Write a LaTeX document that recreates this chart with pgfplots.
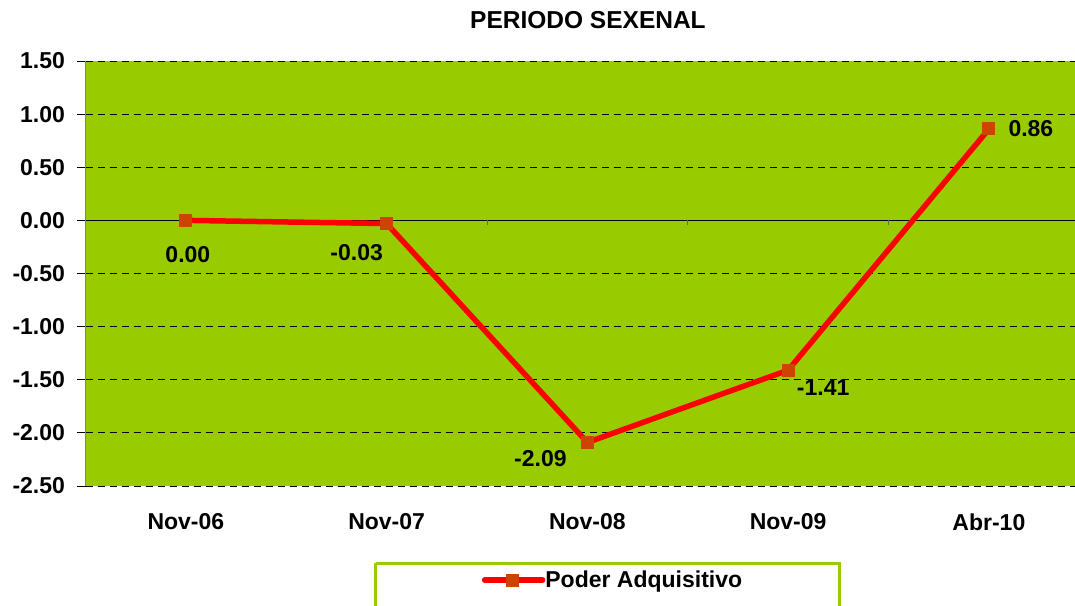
\documentclass[border=0pt]{standalone}
\usepackage{pgfplots}
\pgfplotsset{compat=1.18}
\usepackage{pgfplotstable}
\usepackage{fontspec}
\setmainfont{Liberation Sans}
\definecolor{plotgreen}{RGB}{153,204,0}
\definecolor{markc}{RGB}{204,68,0}
\definecolor{linered}{RGB}{255,0,0}

\pgfplotstableread{
x y dx dy
0 0.00 2 -34
1 -0.03 -30 -29
2 -2.09 -47 -16
3 -1.41 35 -17
4 0.86 42 0
}\datatable

\newcommand{\lbl}{\bfseries\fontsize{23}{27}\selectfont}

\begin{document}
\begin{tikzpicture}
\useasboundingbox (0,0) rectangle (1075pt,605pt);
\begin{axis}[
  scale only axis, width=989.5pt, height=425pt,
  at={(85.5pt,119pt)}, anchor=south west,
  xmin=-0.5, xmax=4.429, ymin=-2.5, ymax=1.5,
  xtick={0,1,2,3,4},
  xticklabels={Nov-06,Nov-07,Nov-08,Nov-09,Abr-10},
  ytick={-2.5,-2,-1.5,-1,-0.5,0,0.5,1,1.5},
  /pgf/number format/assume math mode=true,
  yticklabel style={/pgf/number format/fixed, /pgf/number format/fixed zerofill, /pgf/number format/precision=2, /pgf/number format/assume math mode=true},
  axis x line*=bottom, axis y line*=left,
  x axis line style={draw=none},
  y axis line style={draw={rgb,255:red,128;green,128;blue,128}, line width=1pt},
  xtick style={draw=none},
  ytick style={draw=black, line width=0.9pt},
  tick align=outside, major tick length=8pt,
  ymajorgrids,
  major grid style={black, line width=0.9pt, dash pattern=on 7pt off 5pt},
  extra y ticks={0}, extra y tick labels={},
  extra y tick style={ymajorgrids, major grid style={solid, black, line width=1.3pt}, ytick style={draw=none}},
  axis background/.style={fill=plotgreen},
  tick label style={font=\lbl},
  yticklabel style={anchor=east, xshift=-9pt},
  xticklabel style={anchor=center, yshift=-28pt},
  title={PERIODO SEXENAL},
  title style={at={(0.5078,1.083)}, anchor=center, font=\bfseries\fontsize{24.5}{28}\selectfont},
  legend image code/.code={\draw[mark repeat=2,mark phase=2,#1] plot coordinates {(0pt,0pt) (28pt,0pt) (58pt,0pt)};},
  legend style={at={(0.4004,-0.2212)}, anchor=west, draw=none, fill=none, inner sep=0pt,
    font=\lbl, nodes={inner sep=0pt}, /tikz/every even column/.append style={column sep=5pt}},
  clip=false,
]
\pgfplotsinvokeforeach{0.5,1.5,2.5,3.5}{
  \draw[black!60, line width=1pt] (axis cs:#1,0) -- ([yshift=-5pt]axis cs:#1,0);
}
\addplot[linered, line width=5.5pt, line cap=round, mark=square*, mark size=6pt,
  mark options={fill=markc, draw=markc, line width=0pt},
  nodes near coords,
  visualization depends on={\thisrow{dx}\as\dx},
  visualization depends on={\thisrow{dy}\as\dy},
  every node near coord/.append style={anchor=center, xshift=\dx pt, yshift=\dy pt,
    font=\lbl, text=black,
    /pgf/number format/fixed, /pgf/number format/fixed zerofill, /pgf/number format/precision=2, /pgf/number format/assume math mode=true},
] table[x=x, y=y] {\datatable};
\addlegendentry{Poder Adquisitivo}
\end{axis}
\draw[plotgreen, line width=3pt] (375.5pt,41.7pt) -- (839.5pt,41.7pt) -- (839.5pt,-20pt) (375.5pt,41.7pt) -- (375.5pt,-20pt);
\end{tikzpicture}
\end{document}
